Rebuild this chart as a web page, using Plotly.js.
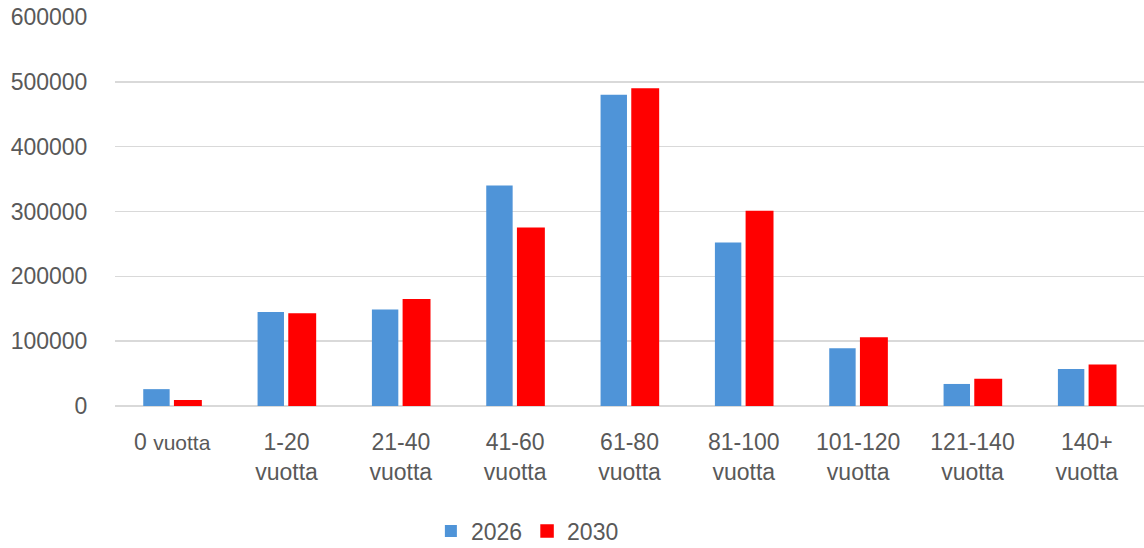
<!DOCTYPE html>
<html>
<head>
<meta charset="utf-8">
<script src="https://cdn.plot.ly/plotly-3.0.1.min.js"></script>
<style>html,body{margin:0;padding:0;background:#fff;}#chart{width:1144px;height:548px;}</style>
</head>
<body>
<div id="chart"></div>
<script>
const categories = ["0 vuotta", "1-20 vuotta", "21-40 vuotta", "41-60 vuotta", "61-80 vuotta", "81-100 vuotta", "101-120 vuotta", "121-140 vuotta", "140+ vuotta"];
const tickLabels = ["0 <span style=\"font-size:21px\">vuotta</span>", "1-20<br>vuotta", "21-40<br>vuotta", "41-60<br>vuotta", "61-80<br>vuotta", "81-100<br>vuotta", "101-120<br>vuotta", "121-140<br>vuotta", "140+<br>vuotta"];
const values2026 = [26000, 145000, 149000, 340000, 480000, 252000, 89000, 34000, 57000];
const values2030 = [8000, 142000, 164000, 274000, 489000, 300000, 105000, 41000, 63000];
const yTicks = [0, 100000, 200000, 300000, 400000, 500000, 600000];

const font = {family: "Liberation Sans, Arial, sans-serif", size: 23, color: "#595959"};

const data = [
  {type: "bar", name: "2026", x: categories, y: values2026,
   marker: {color: "#4F94D8", line: {width: 0}}},
  {type: "bar", name: "2030", x: categories, y: values2030,
   marker: {color: "#FF0000", line: {width: 1.5, color: "#FF0000"}}}
];

const layout = {
  width: 1144, height: 548,
  margin: {l: 115, r: 0, t: 17, b: 142},
  paper_bgcolor: "#fff", plot_bgcolor: "#fff",
  font: font,
  barmode: "group",
  bargap: 0.45,
  bargroupgap: 0.16,
  showlegend: true,
  legend: {orientation: "h", xref: "container", yref: "container", x: 0.461, y: 0.031,
           xanchor: "center", yanchor: "middle", font: font, itemwidth: 30,
           traceorder: "normal"},
  xaxis: {tickmode: "array", tickvals: categories, ticktext: tickLabels,
          showgrid: false, showline: false, zeroline: false,
          ticks: "outside", ticklen: 15, tickcolor: "rgba(0,0,0,0)", tickfont: font, fixedrange: true},
  yaxis: {range: [0, 600000], tickmode: "array", tickvals: yTicks, ticktext: yTicks.map(String),
          showgrid: true, gridcolor: "#D9D9D9", gridwidth: 1.5,
          zeroline: true, zerolinecolor: "#D9D9D9", zerolinewidth: 1.5,
          showline: false, ticks: "outside", ticklen: 22, tickcolor: "rgba(0,0,0,0)",
          tickfont: font, fixedrange: true}
};

Plotly.newPlot("chart", data, layout, {displayModeBar: false, staticPlot: true});
</script>
</body>
</html>
